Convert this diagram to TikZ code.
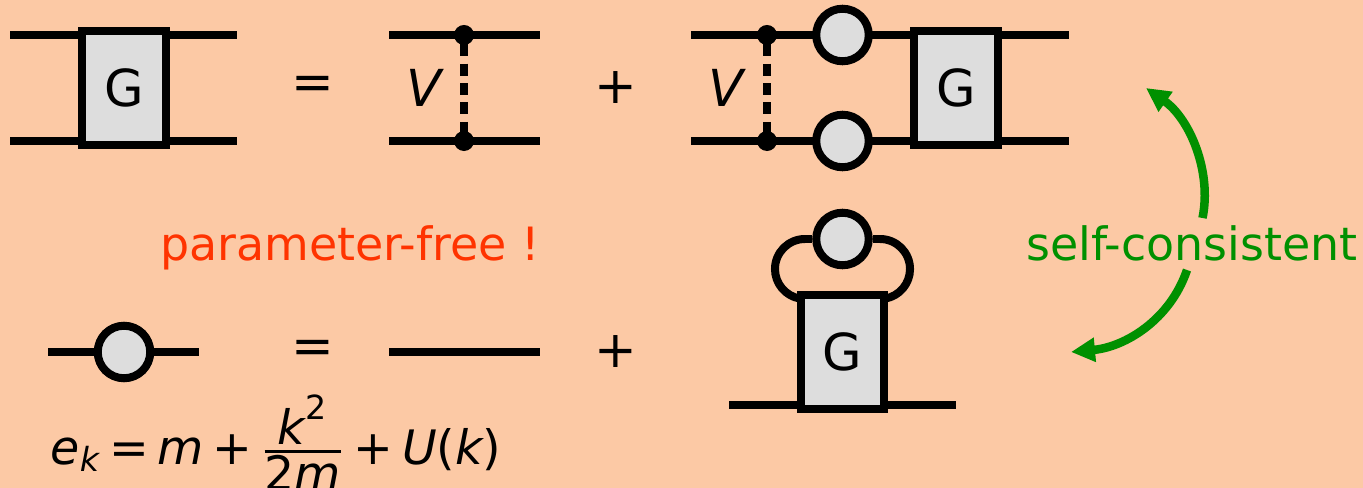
\documentclass[tikz,border=0pt]{standalone}
\usepackage{amsmath}
\usepackage{fontspec}
\setmainfont{DejaVu Sans}
\usetikzlibrary{arrows.meta}
\definecolor{Peach}{HTML}{fcc9a5}
\definecolor{Box}{HTML}{dddddd}
\definecolor{Selfgreen}{HTML}{009000}
\definecolor{Freered}{HTML}{ff3300}
\newcommand{\vr}[1]{\text{\itshape #1}}
\tikzset{
  every node/.style={font=\fontsize{14.5}{17}\selectfont},
  remark/.style={font=\fontsize{13.05}{16}\selectfont,anchor=base},
  prop/.style={line width=0.08cm},
  gbox/.style={draw,fill=Box,line width=0.08cm,inner sep=0pt,minimum width=0.83cm,minimum height=1.13cm},
  bubble/.style={draw,circle,fill=Box,line width=0.08cm,inner sep=0pt,minimum size=0.525cm},
  vertex/.style={circle,fill=black,inner sep=0pt,minimum size=0.2cm},
  inter/.style={line width=0.075cm,dash pattern=on 0.12cm off 0.074cm,dash phase=0.102cm},
  swing/.style={-{Triangle[length=0.24cm,width=0.23cm]},Selfgreen,line width=0.085cm}
}

\begin{document}
\begin{tikzpicture}[x=0.01cm,y=-0.01cm]

\fill[Peach] (0,0) rectangle (1363,488);
\useasboundingbox (0,0) rectangle (1363,488);

% end points of the lines
\coordinate (a1) at (10,35);
\coordinate (a2) at (237,35);
\coordinate (a3) at (10,141);
\coordinate (a4) at (237,141);

\coordinate (b1) at (389,35);
\coordinate (b2) at (540,35);
\coordinate (b3) at (389,141);
\coordinate (b4) at (540,141);

\coordinate (c1) at (691,35);
\coordinate (c2) at (1069,35);
\coordinate (c3) at (691,141);
\coordinate (c4) at (1069,141);

\coordinate (d1) at (48,352);
\coordinate (d2) at (199,352);
\coordinate (e1) at (389,352);
\coordinate (e2) at (540,352);
\coordinate (f1) at (729,405);
\coordinate (f2) at (956,405);

\coordinate (up1) at (1202.5,218);
\coordinate (up2) at (1146,88);
\coordinate (low1) at (1187,270);
\coordinate (low2) at (1071,352);

\draw[prop] (a1) -- (a2);
\draw[prop] (a3) -- (a4);
\draw[prop] (b1) -- (b2);
\draw[prop] (b3) -- (b4);
\draw[prop] (c1) -- (c2);
\draw[prop] (c3) -- (c4);
\draw[prop] (d1) -- (d2);
\draw[prop] (e1) -- (e2);
\draw[prop] (f1) -- (f2);

\node[gbox] (g1) at (124,88) {G};
\node[gbox] (g2) at (956,88) {G};

\node[vertex] (v1) at (464,35) {};
\node[vertex] (v2) at (464,141) {};
\node[vertex] (v3) at (767,35) {};
\node[vertex] (v4) at (767,141) {};
\draw[inter] (v1.center) -- (v2.center);
\draw[inter] (v3.center) -- (v4.center);

\node[bubble] (s1) at (842.5,35) {};
\node[bubble] (s2) at (842.5,141) {};
\node[bubble] (s3) at (124,352) {};

% tadpole on top of the lower box
\coordinate (l1) at (805,239);
\coordinate (l2) at (880,239);
\draw[prop] (l1) arc[start angle=90,end angle=260,radius=0.3cm];
\draw[prop] (l2) arc[start angle=90,end angle=-80,radius=0.3cm];
\node[bubble] (s4) at (842.5,239) {};
\draw[prop] (l1) -- (s4);
\draw[prop] (l2) -- (s4);
\node[gbox] (g3) at (842.5,352) {G};

\node (eq1) at (313,88) {=};
\node (eq2) at (313,352) {=};
\node (p1) at (616,88) {+};
\node (p2) at (616,352) {+};
\node (lv1) at (424,88) {\itshape V};
\node (lv2) at (726,88) {\itshape V};

\node[remark,text=Freered] (free) at (350,261) {parameter-free !};
\node[remark,text=Selfgreen] (self) at (1192,261) {self-consistent};
\node[font=\fontsize{13.5}{16}\selectfont,anchor=base west,inner sep=0pt] (form) at (50,464) {\medmuskip=3mu\thickmuskip=3mu $\vr{e}_{\vr{k}}\mathrel{\text{=}}\vr{m}\mathbin{\text{+}}\genfrac{}{}{0.75pt}{1}{\displaystyle\vr{k}^{\text{2}}}{\displaystyle\text{2}\vr{m}}\mathbin{\text{+}}\vr{U}\text{(}\vr{k}\text{)}$};

\draw[swing] (up1) .. controls (1212,172) and (1190,119) .. (up2);
\draw[swing] (low1) .. controls (1170,320) and (1125,347) .. (low2);

\end{tikzpicture}
\end{document}
